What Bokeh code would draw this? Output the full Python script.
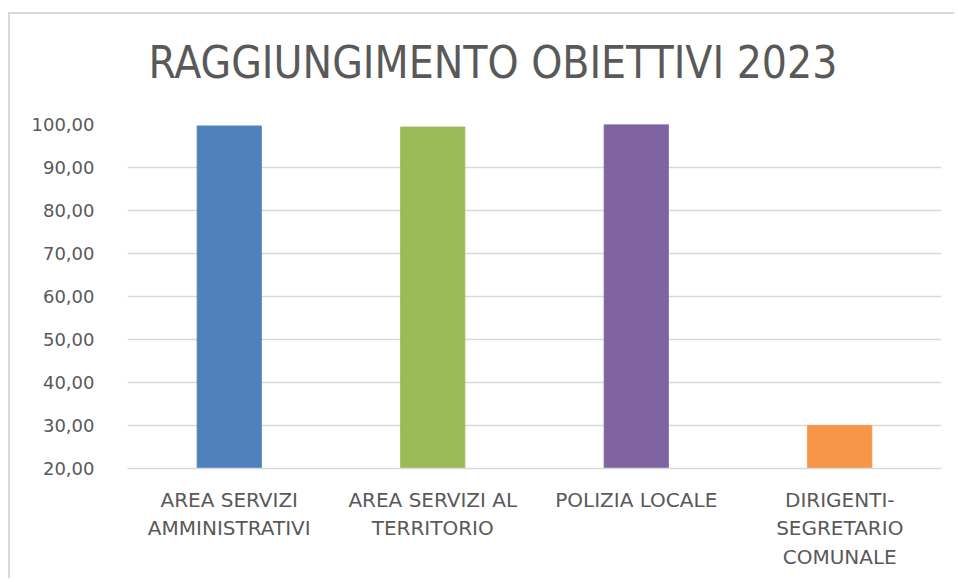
from bokeh.plotting import figure
from bokeh.models import Range1d, FixedTicker, CustomJSTickFormatter, ColumnDataSource, Title
from bokeh.embed import file_html
from bokeh.resources import INLINE

title_text = "RAGGIUNGIMENTO OBIETTIVI 2023"
categories = ["AREA SERVIZI AMMINISTRATIVI", "AREA SERVIZI AL TERRITORIO",
              "POLIZIA LOCALE", "DIRIGENTI-SEGRETARIO COMUNALE"]
tick_labels = ["AREA SERVIZI\nAMMINISTRATIVI", "AREA SERVIZI AL\nTERRITORIO",
               "POLIZIA LOCALE", "DIRIGENTI-\nSEGRETARIO\nCOMUNALE"]
values = [99.65, 99.4, 100.0, 30.0]
colors = ["#4f81bd", "#9bbb59", "#8064a2", "#f79646"]
y_ticks = [20, 30, 40, 50, 60, 70, 80, 90, 100]

TXT = "#595959"
GRID = "#d9d9d9"

positions = list(range(1, len(categories) + 1))

p = figure(x_range=Range1d(0.5, len(categories) + 0.5), y_range=Range1d(20, 100),
           width=946, height=566, output_backend="svg", toolbar_location=None,
           min_border_left=117, min_border_right=15, min_border_top=110, min_border_bottom=112)
p.styles = {"margin-left": "8px", "margin-top": "12px",
            "border-left": "2px solid #d9d9d9", "border-top": "2px solid #d9d9d9"}
p.outline_line_color = None
p.background_fill_color = "white"
p.border_fill_color = "white"

# spacer nearest the frame, then the visible title above it
p.add_layout(Title(text=" ", text_font_size="10px", standoff=24), "above")
p.add_layout(Title(text=title_text, text_font="DejaVu Sans Condensed, Liberation Sans",
                   text_font_size="44px", text_font_style="normal", text_color=TXT,
                   align="left", offset=21, standoff=0), "above")

src = ColumnDataSource(dict(x=positions, cat=categories, val=values, color=colors))
p.vbar(x="x", top="val", bottom=20, width=0.315, color="color", source=src)

p.xgrid.grid_line_color = None
p.ygrid.grid_line_color = GRID
p.ygrid.grid_line_width = 1.5
p.yaxis.ticker = FixedTicker(ticks=y_ticks)
p.yaxis.formatter = CustomJSTickFormatter(code="return tick.toFixed(2).replace('.', ',');")
p.yaxis.axis_line_color = None
p.yaxis.major_tick_line_color = None
p.yaxis.minor_tick_line_color = None
p.yaxis.major_label_standoff = 27
p.yaxis.major_label_text_font = "DejaVu Sans"
p.yaxis.major_label_text_font_size = "18px"
p.yaxis.major_label_text_color = TXT

p.xaxis.ticker = FixedTicker(ticks=positions)
p.xaxis.major_label_overrides = dict(zip(positions, tick_labels))
p.xaxis.axis_line_color = GRID
p.xaxis.axis_line_width = 1.5
p.xaxis.major_tick_line_color = None
p.xaxis.minor_tick_line_color = None
p.xaxis.major_label_standoff = 13
p.xaxis.major_label_text_font = "DejaVu Sans"
p.xaxis.major_label_text_font_size = "20px"
p.xaxis.major_label_text_color = TXT
p.xaxis.major_label_text_line_height = 1.2

open("out.html", "w").write(file_html(p, INLINE))
